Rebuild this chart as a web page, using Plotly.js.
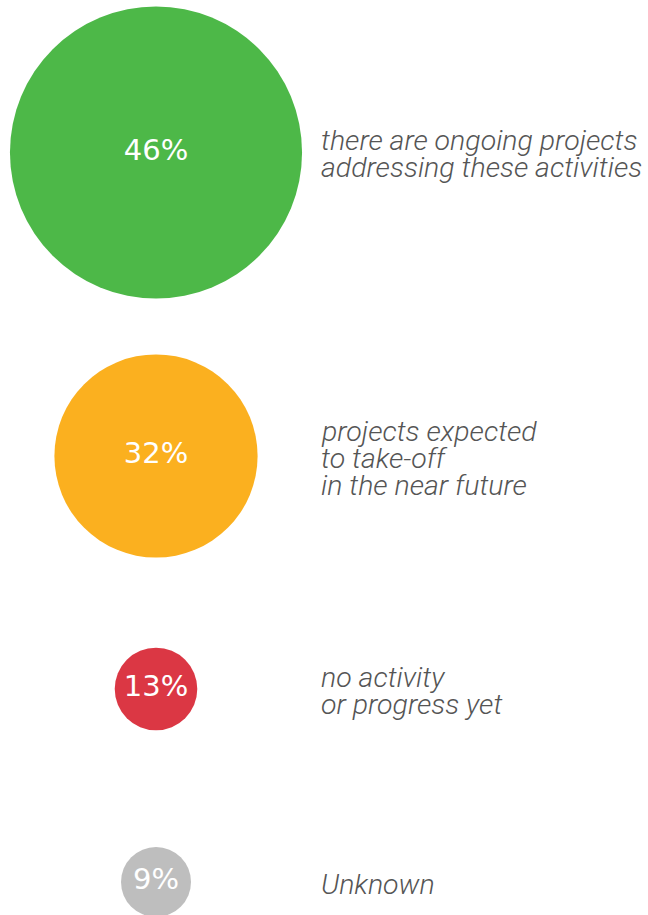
<!DOCTYPE html>
<html><head><meta charset="utf-8">
<script src="https://cdn.plot.ly/plotly-3.0.1.min.js"></script>
<style>html,body{margin:0;padding:0;background:#fff;} #chart{width:648px;height:915px;}</style>
</head><body><div id="chart"></div>
<script>
// ---- data ----
const shares = [46, 32, 13, 9];
const answers = [
  'there are ongoing projects\naddressing these activities',
  'projects expected\nto take-off\nin the near future',
  'no activity\nor progress yet',
  'Unknown'
];

// ---- styles / layout constants ----
const colors = ['#4DB848', '#FBB01F', '#DB3744', '#BEBEBE'];
const W = 648, H = 915;
const rowCentersPx = [152.5, 456, 689, 882];
const pxPerPoint = 6.35;     // circle diameter per percentage point
const lineStepPx = 27;

const traces = [];
const annotations = [];
const layout = {
  width: W, height: H,
  margin: {l: 0, r: 0, t: 0, b: 0},
  paper_bgcolor: '#ffffff', plot_bgcolor: 'rgba(0,0,0,0)',
  showlegend: false,
  xaxis: {type: 'category', categoryorder: 'array', categoryarray: ['circle', 'label'],
          range: [-0.5, 1.5], domain: [74 / W, 402 / W], visible: false, fixedrange: true}
};

shares.forEach((v, i) => {
  const yName = i === 0 ? 'y' : 'y' + (i + 1);
  const axKey = i === 0 ? 'yaxis' : 'yaxis' + (i + 1);
  const f = (H - rowCentersPx[i]) / H;
  layout[axKey] = {type: 'category', range: [-0.5, 0.5], domain: [f - 0.01, f + 0.01],
                   visible: false, fixedrange: true};
  traces.push({
    type: 'scatter', mode: 'markers+text',
    x: ['circle'], y: [answers[i]], xaxis: 'x', yaxis: yName,
    text: [v + '%'], textposition: 'middle center',
    textfont: {family: 'DejaVu Sans', size: 29, color: '#ffffff'},
    marker: {size: [v], sizemode: 'diameter', sizeref: 1 / pxPerPoint, sizemin: 35,
             color: colors[i], opacity: 1, line: {width: 0}},
    cliponaxis: false, hoverinfo: 'skip'
  });
  const lines = answers[i].split('\n');
  lines.forEach((ln, j) => {
    annotations.push({
      xref: 'x', yref: yName, x: 1, y: 0,
      text: ln, showarrow: false, xanchor: 'left', yanchor: 'middle',
      xshift: -1, yshift: -((j - (lines.length - 1) / 2) * lineStepPx) - 2,
      font: {family: 'Roboto, Lato, sans-serif', size: 28.5, color: '#555555',
             style: 'italic', weight: 300}
    });
  });
});
layout.annotations = annotations;

Plotly.newPlot('chart', traces, layout, {displayModeBar: false, staticPlot: true});
</script>
</body></html>
